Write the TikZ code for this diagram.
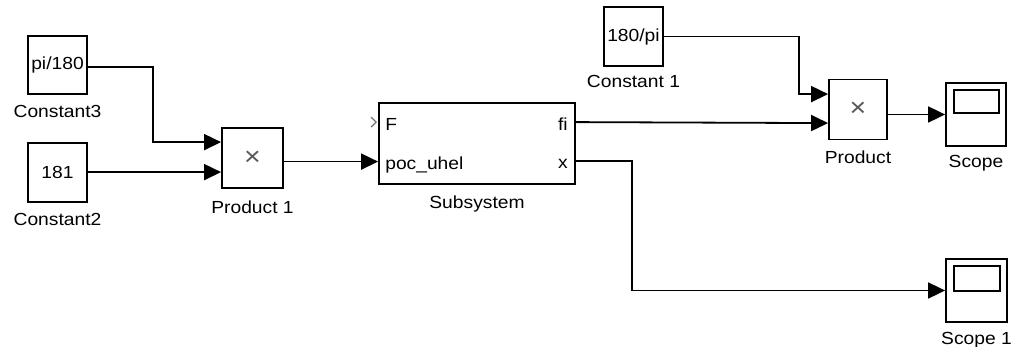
\documentclass[tikz,border=0pt]{standalone}
\usepackage{fontspec}
\setmainfont{Liberation Sans}[FakeStretch=1.1]
\usetikzlibrary{arrows.meta,calc}
\begin{document}
\begin{tikzpicture}[x=1pt,y=-1pt,
  txt/.style={font=\fontsize{17.5}{19}\selectfont},
  blk/.style={draw,line width=1.8pt,fill=white,inner sep=0pt,txt},
  lbl/.style={anchor=base,inner sep=0pt,txt},
  port/.style={inner sep=0pt,txt},
  wire/.style={line width=1.8pt},
  sig/.style={wire,-{Triangle[length=17pt,width=16pt]}},
  mult/.style={text=black!65,font=\fontsize{26}{26}\selectfont}]
\useasboundingbox (0,0) rectangle (1012,347);

% Constants
\node[blk,minimum width=59pt,minimum height=58pt] (c3) at (57.5,65) {pi/180};
\node[lbl] (c3l) at ($(c3.south)+(0,23)$) {Constant3};
\node[blk,minimum width=59pt,minimum height=59pt] (c2) at (57.5,172.5) {181};
\node[lbl] (c2l) at ($(c2.south)+(0,23)$) {Constant2};
\node[blk,minimum width=59pt,minimum height=59pt] (c1) at (633.5,36.5) {180/pi};
\node[lbl] (c1l) at ($(c1.south)+(0,21)$) {Constant 1};

% Products
\node[blk,minimum width=61pt,minimum height=60pt,mult] (p1) at (252.5,158) {×};
\node[lbl] (p1l) at ($(p1.south)+(0,25)$) {Product 1};
\node[blk,minimum width=58pt,minimum height=60pt,mult] (pr) at (858,109.5) {×};
\node[lbl] (prl) at ($(pr.south)+(0,23)$) {Product};

% Subsystem
\node[blk,minimum width=196pt,minimum height=81pt] (ss) at (477,143.5) {};
\node[lbl] (ssl) at ($(ss.south)+(0,24)$) {Subsystem};
\coordinate (ssF) at ($(ss.north west)+(0,20)$);
\coordinate (ssP) at ($(ss.north west)+(0,59.5)$);
\coordinate (ssfi) at ($(ss.north east)+(0,20)$);
\coordinate (ssx) at ($(ss.north east)+(0,59)$);
\node[port,anchor=base west] (pF) at ($(ssF)+(7,8.5)$) {F};
\node[port,anchor=base west] (pP) at ($(ssP)+(7,7.5)$) {poc\_uhel};
\node[port,anchor=base east] (pfi) at ($(ssfi)+(-8,8.5)$) {fi};
\node[port,anchor=base east] (px) at ($(ssx)+(-8,7)$) {x};
\draw[black!55,line width=1.2pt] ($(ssF)+(-7,-5)$) -- ($(ssF)+(-2,0)$) -- ($(ssF)+(-7,5)$);

% Scopes
\node[blk,minimum width=60pt,minimum height=63pt] (sc) at (976,114.5) {};
\draw[line width=1.6pt] ($(sc.north west)+(9,8)$) rectangle ($(sc.north east)+(-8,31)$);
\node[lbl] (scl) at ($(sc.south)+(0,21)$) {Scope};
\node[blk,minimum width=61pt,minimum height=63pt] (sc1) at (976.5,290.5) {};
\draw[line width=1.6pt] ($(sc1.north west)+(9,8)$) rectangle ($(sc1.north east)+(-8,33)$);
\node[lbl] (sc1l) at ($(sc1.south)+(0,22)$) {Scope 1};

% Input port coordinates
\coordinate (p1a) at ($(p1.north west)+(0,15)$);
\coordinate (p1b) at ($(p1.north west)+(0,45)$);
\coordinate (pra) at ($(pr.north west)+(0,15.5)$);
\coordinate (prb) at ($(pr.north west)+(0,44.5)$);

% Wires
\draw[sig] ($(c3.east)+(0,2)$) -| ($(p1a)+(-68,0)$) -- (p1a);
\draw[sig] (c2.east |- p1b) -- (p1b);
\draw[sig] (p1.east |- ssP) -- (ssP);
\draw[sig] (c1.east) -| ($(pra)+(-29,0)$) -- (pra);
\draw[sig] (ssfi) -- (prb);
\draw[sig] (pr.east |- sc.west) -- (sc.west);
\draw[sig] (ssx) -| ($(sc1.west)+(-313,0)$) -- (sc1.west);
\end{tikzpicture}
\end{document}
